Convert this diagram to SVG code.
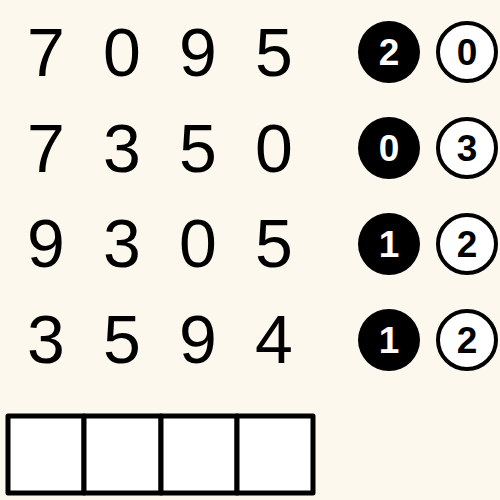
<svg xmlns="http://www.w3.org/2000/svg" width="500" height="500" viewBox="0 0 500 500">
<style>
.d{font-family:"Liberation Sans",Arial,sans-serif;font-size:68px;fill:#000;text-anchor:middle}
.cb{fill:#000}
.cw{fill:#fff;stroke:#000;stroke-width:4}
.tb{font-family:"Liberation Sans",Arial,sans-serif;font-weight:bold;font-size:37px;fill:#fff;text-anchor:middle}
.tw{font-family:"Liberation Sans",Arial,sans-serif;font-weight:bold;font-size:37px;fill:#000;text-anchor:middle}
.box{fill:#fff;stroke:#000;stroke-width:5;stroke-linejoin:round}
</style>
<rect width="500" height="500" fill="#fdf8ee"/>
<g id="row1">
<text class="d" x="46" y="76">7</text><text class="d" x="122" y="76">0</text><text class="d" x="198" y="76">9</text><text class="d" x="274" y="76">5</text>
<circle class="cb" cx="389" cy="52" r="31"/><text class="tb" x="389" y="65">2</text>
<circle class="cw" cx="467" cy="52" r="29"/><text class="tw" x="467" y="65">0</text>
</g>
<g id="row2">
<text class="d" x="46" y="172">7</text><text class="d" x="122" y="172">3</text><text class="d" x="198" y="172">5</text><text class="d" x="274" y="172">0</text>
<circle class="cb" cx="389" cy="148" r="31"/><text class="tb" x="389" y="161">0</text>
<circle class="cw" cx="467" cy="148" r="29"/><text class="tw" x="467" y="161">3</text>
</g>
<g id="row3">
<text class="d" x="46" y="267">9</text><text class="d" x="122" y="267">3</text><text class="d" x="198" y="267">0</text><text class="d" x="274" y="267">5</text>
<circle class="cb" cx="389" cy="244" r="31"/><text class="tb" x="389" y="257">1</text>
<circle class="cw" cx="467" cy="244" r="29"/><text class="tw" x="467" y="257">2</text>
</g>
<g id="row4">
<text class="d" x="46" y="363">3</text><text class="d" x="122" y="363">5</text><text class="d" x="198" y="363">9</text><text class="d" x="274" y="363">4</text>
<circle class="cb" cx="389" cy="340" r="31"/><text class="tb" x="389" y="353">1</text>
<circle class="cw" cx="467" cy="340" r="29"/><text class="tw" x="467" y="353">2</text>
</g>
<g id="answer">
<rect class="box" x="8" y="416" width="76" height="77"/>
<rect class="box" x="84" y="416" width="77" height="77"/>
<rect class="box" x="161" y="416" width="76" height="77"/>
<rect class="box" x="237" y="416" width="76" height="77"/>
</g>
</svg>
